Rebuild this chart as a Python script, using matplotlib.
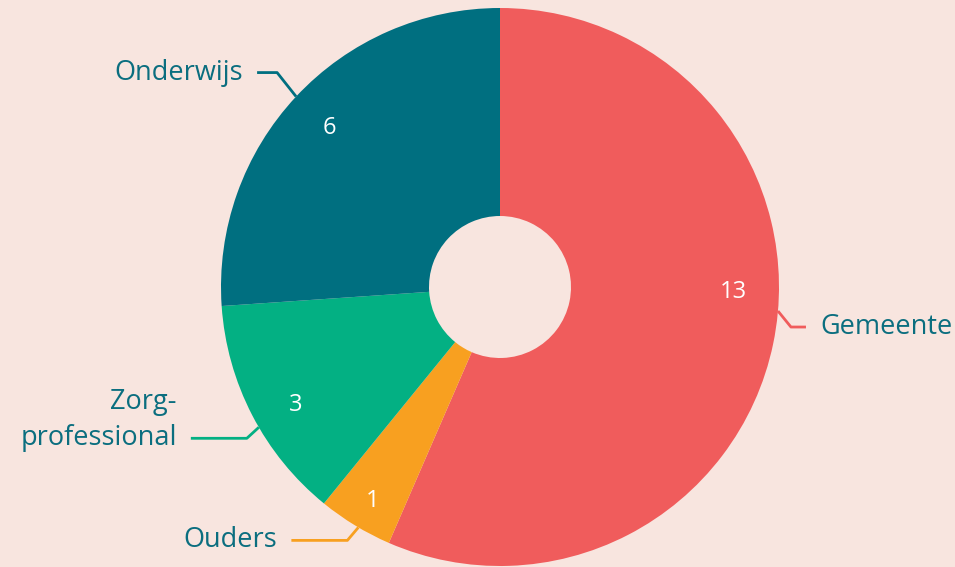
import numpy as np
import matplotlib
matplotlib.use("Agg")
import matplotlib.pyplot as plt

plt.rcParams['font.family'] = ['Open Sans', 'DejaVu Sans']

labels = ["Gemeente", "Ouders", "Zorg-\nprofessional", "Onderwijs"]
values = [13, 1, 3, 6]
colors = ["#F05C5C", "#F8A020", "#03B083", "#006F80"]
bg = "#F8E5DF"
textcol = "#0B6E7F"

fig = plt.figure(figsize=(9.55, 5.67), dpi=100, facecolor=bg)
ax = fig.add_axes([0, 0, 1, 1])
ax.set_facecolor(bg)

cx, cy, R = 500, 280, 279
wedges, _ = ax.pie(values, colors=colors, startangle=90, counterclock=False,
                   center=(cx, cy), radius=R, frame=True,
                   wedgeprops=dict(width=R - 71, linewidth=0))
ax.set_xlim(0, 955)
ax.set_ylim(0, 567)
ax.set_aspect("equal")
ax.axis("off")

# small angle nudges for the value labels and leader lines (degrees)
num_nudge = [10.5, 0.5, 2.5, 0]
num_r = [233, 249, 236, 233]
lead_nudge = [6.8, 0.8, 2.8, 0]
elbow_dx = [13, -11, -12, -19]
elbow_dy = [-16, -13, -11, 24]
arm = [15, 56, 56, 20]

for i, w in enumerate(wedges):
    mid = (w.theta1 + w.theta2) / 2
    a = np.deg2rad(mid + num_nudge[i])
    ax.text(cx + num_r[i] * np.cos(a), cy + num_r[i] * np.sin(a), str(values[i]),
            color="white", fontsize=17, ha="center", va="center")

    b = np.deg2rad(mid + lead_nudge[i])
    x0, y0 = cx + R * np.cos(b), cy + R * np.sin(b)
    side = 1 if elbow_dx[i] > 0 else -1
    x1, y1 = x0 + elbow_dx[i], y0 + elbow_dy[i]
    x2 = x1 + side * arm[i]
    ax.plot([x0, x1, x2], [y0, y1, y1], color=colors[i], lw=2, solid_capstyle="butt")
    ha = "left" if side > 0 else "right"
    tx = x2 + side * 14
    lines = labels[i].split("\n")
    for k, s in enumerate(reversed(lines)):
        ax.text(tx, y1 + 36 * k, s, color=textcol, fontsize=19.5, ha=ha, va="center")

fig.savefig("out.png", dpi=100, facecolor=bg)
